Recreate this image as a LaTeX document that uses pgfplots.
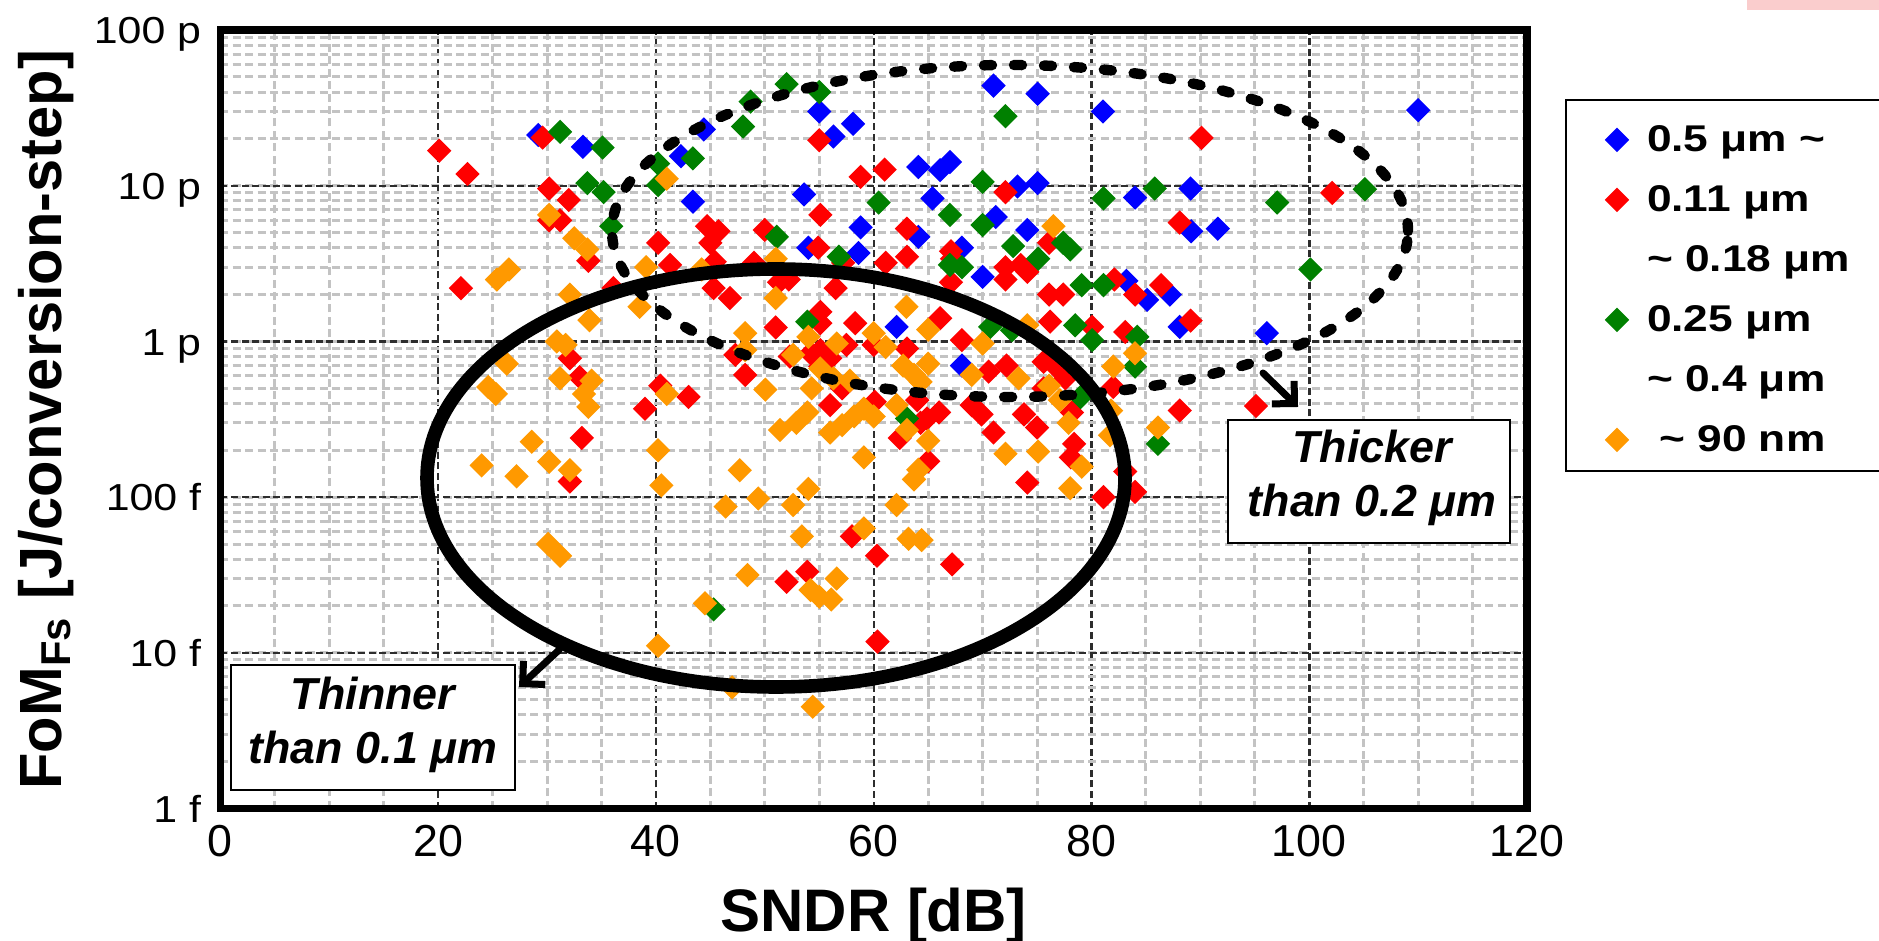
\documentclass[border=0pt]{standalone}
\usepackage{pgfplots}
\pgfplotsset{compat=1.18}
\usepackage{fontspec}
\setmainfont{Liberation Sans}
\usepackage{graphicx}
\usetikzlibrary{arrows.meta}

\definecolor{cblue}{RGB}{0,0,255}
\definecolor{cred}{RGB}{255,0,0}
\definecolor{cgreen}{RGB}{0,128,0}
\definecolor{corange}{RGB}{255,153,0}
\definecolor{majgrid}{RGB}{45,45,45}
\definecolor{mingrid}{RGB}{195,195,195}
\definecolor{pinkbar}{RGB}{250,205,205}

\newcommand{\PX}[2]{({(#1-220.3)*0.25pt},{(808.5-#2)*0.25pt})}
\newcommand{\YT}[1]{\scalebox{1.14}[1]{#1}}
\newcommand{\LG}[1]{\scalebox{1.19}[1]{#1}}

\pgfplotsset{
  dia/.style={only marks, mark=square*, mark size=1.95pt, color=#1,
    mark options={rotate=45, draw=none, fill=#1},
    legend image code/.code={\draw[mark repeat=2,mark phase=2,##1] plot coordinates {(0cm,0cm)(0.15cm,0cm)(0.3cm,0cm)};}},
}

\begin{document}
\begin{tikzpicture}
\useasboundingbox \PX{0}{940} rectangle \PX{1879}{0};
\fill[pinkbar] \PX{1747}{0} rectangle \PX{1879}{10};
\begin{axis}[
  at={(0pt,0pt)}, anchor=south west,
  scale only axis, width=326.7pt, height=194.6pt,
  xmin=0, xmax=120, ymode=log, ymin=0.001, ymax=100,
  xtick={0,20,...,120}, minor x tick num=3,
  ytick={0.001,0.01,0.1,1,10,100},
  yticklabels={\YT{1 f},\YT{10 f},\YT{100 f},\YT{1 p},\YT{10 p},\YT{100 p}},
  /pgf/number format/assume math mode=true,
  xticklabel={\pgfmathprintnumber{\tick}},
  xticklabel style={font=\fontsize{11.2}{12}\selectfont, anchor=base, inner sep=0pt, yshift=-12.05pt},
  yticklabel style={font=\fontsize{9.4}{10}\selectfont, anchor=base east, inner sep=0pt, xshift=-4.6pt, yshift=-3.4pt},
  major tick length=0pt, minor tick length=0pt,
  grid=both,
  major grid style={majgrid, line width=0.6pt, dash pattern=on 1.75pt off 0.9pt},
  minor grid style={mingrid, line width=0.75pt, dash pattern=on 2pt off 1.1pt},
  axis line style={line width=1.8pt},
  every axis x label/.style={at={(axis description cs:0.5,-0.1586)}, anchor=base, font=\fontsize{15}{17}\selectfont\bfseries},
  every axis y label/.style={at={(axis description cs:-0.1214,0.4995)}, rotate=90, anchor=base, font=\fontsize{14.9}{17}\selectfont\bfseries},
  xlabel={SNDR [dB]},
  ylabel={FoM\textsubscript{Fs} [J/conversion-step]},
  legend cell align=left,
  legend style={at={(axis description cs:1.0551,0.8831)}, anchor=north west, draw=none, fill=none, inner sep=0pt, row sep=6pt, column sep=4.75pt, font=\fontsize{9.3}{11}\selectfont\bfseries, nodes={inner sep=0pt, text height=7.4pt, text depth=1.6pt}},
]
\addplot[dia=cblue] coordinates {
(29.2,21.2) (33.3,17.8) (44.4,23) (58.1,25) (56.3,20.7) (55.0,30) (42.3,15.5) (43.4,7.9) (53.6,8.8) (64.1,13.2) (66.1,12.6) (67.0,14.2) (71.0,44) (75.05,39) (81.05,30) (73.2,9.9) (75.05,10.4) (65.4,8.3) (71.2,6.3) (74.1,5.2) (58.8,5.4) (64.1,4.7) (54.0,4.0) (58.6,3.7) (68.1,4.0) (70.0,2.6) (110.0,30.6) (84.0,8.4) (89.1,9.6) (89.15,5.1) (91.6,5.3) (83.2,2.45) (85.1,1.85) (87.2,2.0) (88.1,1.24) (96.1,1.13) (62.1,1.24) (68.1,0.70)
};
\addlegendentry{\LG{0.5 μm \textasciitilde}}
\addplot[dia=cred] coordinates {
(29.6,20.4) (20.1,16.8) (22.7,11.9) (30.2,9.6) (32.0,8.1) (30.2,6.0) (31.2,6.0) (33.8,3.3) (40.2,4.3) (41.3,3.1) (22.1,2.2) (36.1,2.2)
(55.0,19.6) (58.8,11.4) (61.0,12.7) (72.1,9.1) (55.1,6.5) (76.1,4.3) (44.7,5.5) (45.75,5.1) (45.0,4.3) (50.0,5.2) (63.05,5.3) (45.4,3.25) (49.0,3.2) (54.9,4.0) (57.2,3.2) (61.1,3.2) (63.05,3.5) (67.1,3.8) (67.2,3.4) (72.1,3.0) (72.1,2.5) (73.5,3.1) (74.1,2.8) (67.1,2.4) (76.1,2.0) (77.4,2.0) (45.3,2.2) (46.8,1.9) (51.3,2.4) (52.2,2.5) (56.5,2.2)
(90.1,20.3) (102.1,9.0) (88.1,5.8) (82.1,2.5) (84.0,2.0) (86.4,2.3)
(89.1,1.36) (83.1,1.15) (82.0,0.51) (95.1,0.385) (88.1,0.36) (83.1,0.146) (84.0,0.108) (81.1,0.10)
(66.1,1.41) (55.1,1.55) (55.1,1.31) (51.0,1.23) (58.3,1.31) (60.0,0.95) (63.05,0.90) (68.1,1.02) (76.2,1.34) (80.05,1.24) (47.3,0.82) (48.2,0.61) (43.0,0.44) (57.1,0.50) (56.0,0.39) (60.1,0.41) (64.0,0.42) (66.0,0.35) (64.9,0.32) (64.3,0.30) (62.4,0.24) (65.0,0.17) (70.55,0.64) (72.2,0.70) (75.6,0.74) (76.7,0.69) (77.6,0.58) (75.6,0.50) (78.2,0.35) (73.8,0.34) (75.0,0.28) (69.0,0.39) (69.9,0.34) (71.0,0.26) (78.4,0.22) (78.1,0.18) (74.1,0.124) (58.0,0.056) (60.3,0.042) (67.2,0.037)
(52.3,0.80) (54.2,0.84) (55.1,0.88) (56.0,0.78) (55.1,0.69) (57.5,0.95)
(32.1,0.78) (33.0,0.59) (33.2,0.24) (32.1,0.126) (40.4,0.52) (39.0,0.37)
(52.0,0.0286) (53.9,0.0332) (60.35,0.0118)
};
\addlegendentry{\LG{0.11 μm}}
\addlegendimage{empty legend}
\addlegendentry{\LG{\textasciitilde\ 0.18 μm}}
\addplot[dia=cgreen] coordinates {
(31.2,22.2) (35.1,17.6) (33.7,10.4) (35.2,9.1) (35.9,5.5) (40.2,13.9) (40.2,10.1)
(52.0,45) (48.7,34.7) (55.0,40) (48.0,24) (43.4,15) (72.1,28) (70.0,10.6) (60.45,7.8) (67.0,6.5) (70.0,5.6) (78.05,3.9) (77.4,4.3) (81.1,8.3) (51.1,4.7) (56.8,3.5) (67.0,3.1) (68.1,3.0) (72.8,4.1) (75.1,3.4) (79.1,2.3) (81.1,2.3)
(85.8,9.6) (97.05,7.8) (105.1,9.5) (100.1,2.9)
(84.2,1.07) (84.0,0.69) (86.1,0.22)
(53.9,1.34) (70.7,1.24) (72.7,1.18) (78.5,1.27) (80.05,1.02) (79.0,0.44) (63.05,0.32)
(45.3,0.019)
};
\addlegendentry{\LG{0.25 μm}}
\addlegendimage{empty legend}
\addlegendentry{\LG{\textasciitilde\ 0.4 μm}}
\addplot[dia=corange] coordinates {
(30.2,6.5) (32.5,4.6) (33.7,3.9) (41.0,11.1) (39.1,3.0) (25.4,2.5) (26.5,2.9) (32.1,2.0)
(44.2,2.9) (51.0,3.4) (76.5,5.5) (51.0,1.9)
(38.5,1.67) (33.9,1.37) (30.9,1.0) (31.7,0.95) (31.2,0.58) (34.1,0.56) (33.4,0.46) (33.8,0.38) (26.3,0.72) (24.6,0.51) (25.3,0.46) (28.6,0.227) (24.0,0.16) (27.2,0.136) (30.2,0.169) (32.1,0.149) (41.0,0.46) (40.2,0.20) (40.5,0.119) (30.1,0.050) (31.2,0.042)
(63.0,1.67) (65.0,1.19) (48.2,1.13) (60.0,1.13) (61.1,0.92) (74.1,1.27) (70.0,0.97) (48.2,0.88) (50.05,0.49)
(52.6,0.82) (54.0,1.07) (56.6,0.97) (55.1,0.67) (56.3,0.58) (54.3,0.50) (57.8,0.56)
(53.9,0.35) (52.9,0.30) (51.4,0.27) (56.0,0.26) (57.1,0.29) (58.2,0.33) (59.1,0.37) (60.0,0.33) (59.1,0.18) (62.1,0.39) (62.7,0.70) (63.7,0.61) (64.3,0.55) (65.0,0.72) (63.05,0.27) (65.0,0.23) (64.1,0.15) (63.7,0.13) (69.0,0.61) (73.3,0.58) (76.1,0.52) (77.1,0.42) (77.9,0.30) (72.1,0.19) (75.1,0.196) (79.1,0.157) (78.05,0.114) (81.8,0.36) (81.7,0.25) (47.7,0.149) (46.4,0.087) (49.4,0.098) (52.6,0.089) (54.0,0.113) (53.4,0.056) (59.1,0.063) (62.1,0.089) (63.2,0.054) (64.4,0.053)
(84.0,0.84) (82.0,0.69) (86.1,0.28)
(40.2,0.0111)
(48.4,0.0316) (54.2,0.0253) (55.0,0.0229) (56.1,0.022) (56.6,0.030) (44.5,0.0208) (47.0,0.006) (54.4,0.0045)
};
\addlegendentry{\LG{\ \textasciitilde\ 90 nm}}
\end{axis}
% ellipses
\draw[line width=2.6pt, dash pattern=on 2pt off 5.5pt, line cap=round] \PX{1010}{231} ellipse [x radius=99.5pt, y radius=41.5pt];
\draw[line width=3.4pt] \PX{776}{478} ellipse [x radius=87.25pt, y radius=52.25pt];
% boxes
\draw[line width=0.5pt, fill=white] \PX{1228}{420} rectangle \PX{1510}{543};
\node[font=\fontsize{11.2}{13.3}\selectfont\bfseries\itshape, align=center, inner sep=0pt] at \PX{1372}{478} {Thicker\\than 0.2 μm};
\draw[line width=0.5pt, fill=white] \PX{231}{665} rectangle \PX{515}{790};
\node[font=\fontsize{11.2}{13.3}\selectfont\bfseries\itshape, align=center, inner sep=0pt] at \PX{373}{725} {Thinner\\than 0.1 μm};
% arrows
\draw[line width=1.75pt, line cap=round, -{Straight Barb[length=4pt, width=8pt, line width=1.75pt]}] \PX{1263}{373} -- \PX{1298}{407};
\draw[line width=1.75pt, line cap=round, -{Straight Barb[length=4pt, width=8pt, line width=1.75pt]}] \PX{559}{650} -- \PX{519}{687};
% frame
\draw[line width=1.8pt] \PX{220.3}{30} rectangle \PX{1527}{808.5};
% legend frame
\draw[line width=0.7pt] \PX{1566}{100} rectangle \PX{1900}{471};
\end{tikzpicture}
\end{document}
